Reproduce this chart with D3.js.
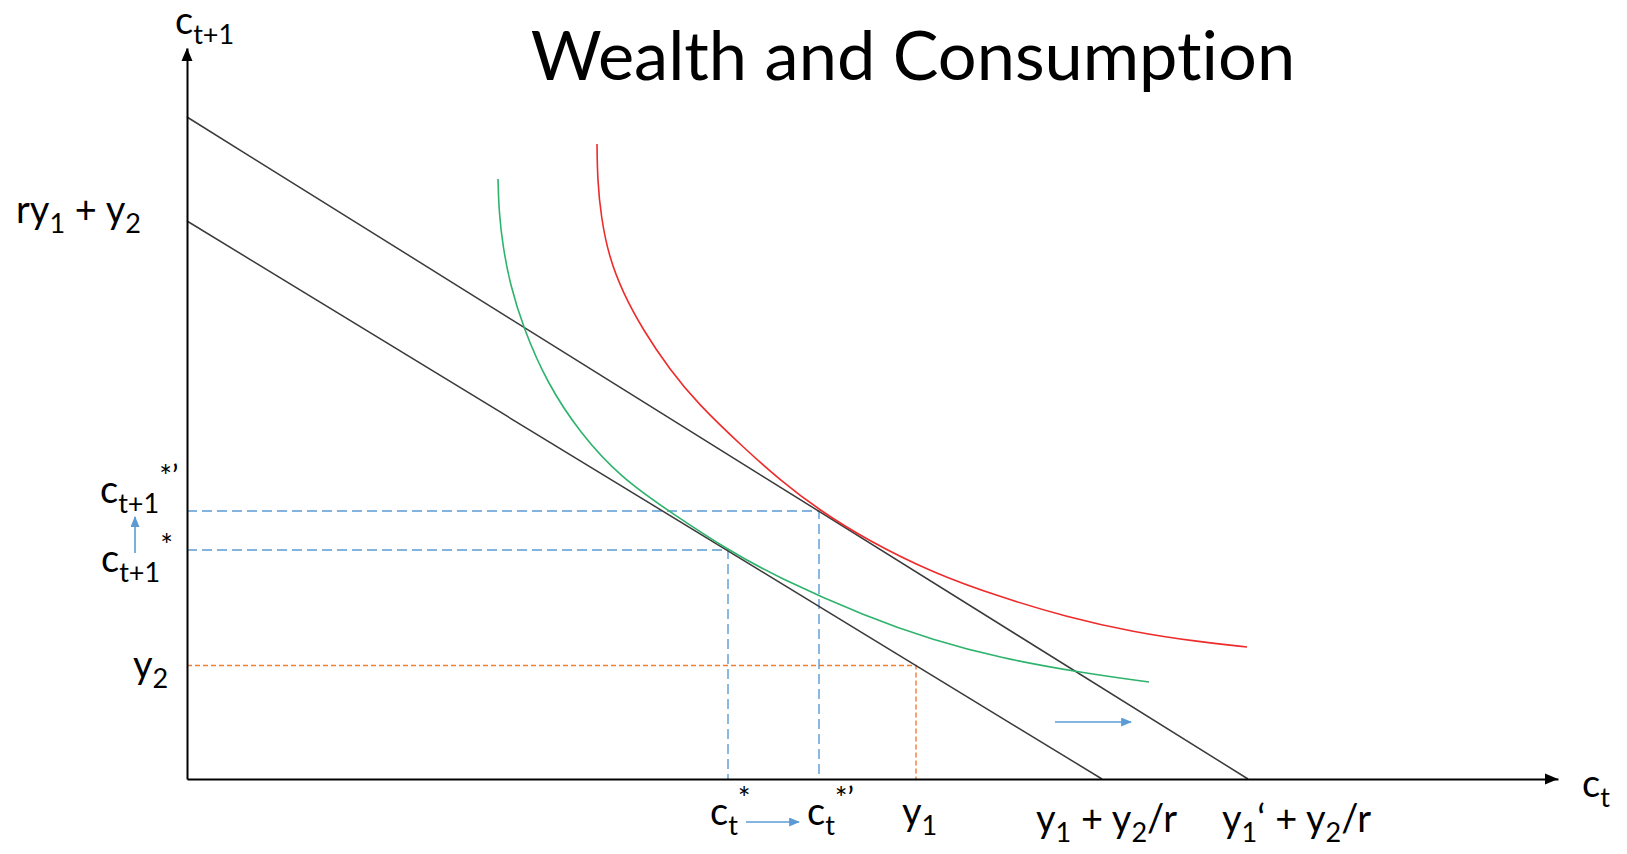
<!DOCTYPE html>
<html>
<head>
<meta charset="utf-8">
<script src="https://cdn.jsdelivr.net/npm/d3@7"></script>
<style>
  body { margin: 0; background: #fff; }
  text { font-family: Lato, "Open Sans", sans-serif; fill: #000; font-variant-ligatures: none; }
</style>
</head>
<body>
<div id="chart"></div>
<script>
// axis extents (units of c_t and c_t+1)
const xMax = 137.1;
const yMax = 73.1;

// budget lines: [c_t, c_t+1] end points
const budgetOld = [[0, 55.8], [91.5, 0]];
const budgetNew = [[0, 66.2], [106.1, 0]];

// indifference curves
const curveOld = [
  [31.1, 60.0], [31.2, 56.6], [31.6, 53.2], [32.3, 49.5], [33.6, 45.2],
  [36.0, 39.6], [39.3, 34.6], [43.3, 30.2], [48.6, 26.5], [54.1, 22.9],
  [59.0, 20.2], [68.0, 16.2], [74.6, 13.9], [81.3, 12.1], [89.6, 10.6],
  [96.2, 9.7]
];
const curveNew = [
  [41.0, 63.5], [41.05, 59.9], [41.4, 56.2], [42.2, 52.2], [43.6, 48.6],
  [45.6, 44.9], [48.3, 40.9], [51.0, 37.6], [55.8, 33.0], [59.3, 29.9],
  [63.2, 26.9], [68.0, 23.9], [74.6, 20.6], [81.3, 18.2], [88.0, 16.2],
  [94.6, 14.7], [101.3, 13.7], [106.0, 13.2]
];

// optimum points and endowment
const optOld = [54.1, 22.9];
const optNew = [63.2, 26.8];
const endowment = [72.9, 11.35];

// little blue arrows: [from, to]
const shiftArrows = [
  [[-5.2, 22.6], [-5.2, 26.2]],
  [[55.9, -4.3], [61.2, -4.3]],
  [[86.8, 5.7], [94.4, 5.7]]
];

const width = 1627, height = 854;

const svg = d3.select("#chart")
  .append("svg")
  .attr("width", width)
  .attr("height", height);

const x = d3.scaleLinear().domain([0, xMax]).range([187, 1558]);
const y = d3.scaleLinear().domain([0, yMax]).range([779, 48]);

const defs = svg.append("defs");
defs.append("marker")
  .attr("id", "blueHead")
  .attr("viewBox", "0 0 12 10")
  .attr("refX", 11)
  .attr("refY", 5)
  .attr("markerUnits", "userSpaceOnUse")
  .attr("markerWidth", 12)
  .attr("markerHeight", 9)
  .attr("orient", "auto")
  .append("path")
  .attr("d", "M0,0L12,5L0,10Z")
  .attr("fill", "#5b9bd5");

// =====================
// TITLE
// =====================
svg.append("text")
  .attr("x", 913)
  .attr("y", 80)
  .attr("text-anchor", "middle")
  .style("font-size", "68.5px")
  .text("Wealth and Consumption");

// =====================
// DASHED GUIDES
// =====================
const guide = d3.line().x(d => x(d[0])).y(d => y(d[1]));

[[optOld, "#5b9bd5", "10,5"], [optNew, "#5b9bd5", "10,5"], [endowment, "#ed7d31", "5,3"]]
  .forEach(([p, col, dash]) => {
    svg.append("path")
      .attr("d", guide([[0, p[1]], [p[0], p[1]], [p[0], 0]]))
      .attr("fill", "none")
      .attr("stroke", col)
      .attr("stroke-width", 1.4)
      .attr("stroke-dasharray", dash);
  });

// =====================
// BUDGET LINES
// =====================
svg.selectAll(".budget")
  .data([budgetOld, budgetNew])
  .enter()
  .append("path")
  .attr("class", "budget")
  .attr("d", guide)
  .attr("fill", "none")
  .attr("stroke", "#3a3a3a")
  .attr("stroke-width", 1.5);

// =====================
// INDIFFERENCE CURVES
// =====================
const smooth = d3.line()
  .x(d => x(d[0]))
  .y(d => y(d[1]))
  .curve(d3.curveBasis);

svg.append("path")
  .attr("d", smooth(curveOld))
  .attr("fill", "none")
  .attr("stroke", "#2eb36c")
  .attr("stroke-width", 1.6);

svg.append("path")
  .attr("d", smooth(curveNew))
  .attr("fill", "none")
  .attr("stroke", "#ee2b2b")
  .attr("stroke-width", 1.6);

// =====================
// AXES
// =====================
svg.append("g")
  .attr("transform", `translate(0,${y(0)})`)
  .call(d3.axisBottom(x).tickValues([]).tickSizeOuter(0));
svg.append("g")
  .attr("transform", `translate(${x(0)},0)`)
  .call(d3.axisLeft(y).tickValues([]).tickSizeOuter(0));
svg.selectAll(".domain").attr("stroke", "#000").attr("stroke-width", 2);

svg.append("path")
  .attr("d", `M${x(xMax)},${y(0)}l-13,-5.5v11z`)
  .attr("fill", "#000");
svg.append("path")
  .attr("d", `M${x(0)},${y(yMax)}l-5.5,13h11z`)
  .attr("fill", "#000");

// =====================
// SHIFT ARROWS
// =====================
svg.selectAll(".shift")
  .data(shiftArrows)
  .enter()
  .append("line")
  .attr("x1", d => x(d[0][0]))
  .attr("y1", d => y(d[0][1]))
  .attr("x2", d => x(d[1][0]))
  .attr("y2", d => y(d[1][1]))
  .attr("stroke", "#5b9bd5")
  .attr("stroke-width", 1.6)
  .attr("marker-end", "url(#blueHead)");

// =====================
// LABELS
// =====================
// parts: [text, "sub" | "sup" | null]
function label(px, py, parts) {
  const t = svg.append("text")
    .attr("x", px)
    .attr("y", py)
    .style("font-size", "38px");
  let cur = 0;
  parts.forEach(([s, kind]) => {
    const target = kind === "sub" ? 10 : kind === "sup" ? -16 : 0;
    t.append("tspan")
      .attr("dy", target - cur)
      .style("font-size", kind === "sub" ? "27px" : kind === "sup" ? "30px" : "38px")
      .text(s);
    cur = target;
  });
}

label(x(0) - 12, y(yMax) - 14, [["c"], ["t+1", "sub"]]);
label(x(xMax) + 24, y(0) + 18, [["c"], ["t", "sub"]]);

label(16, y(budgetOld[0][1]) + 2, [["ry"], ["1", "sub"], [" + y"], ["2", "sub"]]);
label(100, y(optNew[1]) - 8, [["c"], ["t+1", "sub"], ["*’", "sup"]]);
label(101, y(optOld[1]) + 22, [["c"], ["t+1", "sub"], ["*", "sup"]]);
label(133, y(endowment[1]) + 12, [["y"], ["2", "sub"]]);

label(x(optOld[0]) - 18, y(0) + 46, [["c"], ["t", "sub"], ["*", "sup"]]);
label(x(optNew[0]) - 12, y(0) + 46, [["c"], ["t", "sub"], ["*’", "sup"]]);
label(x(endowment[0]) - 14, y(0) + 46, [["y"], ["1", "sub"]]);
label(x(budgetOld[1][0]) - 66, y(0) + 53, [["y"], ["1", "sub"], [" + y"], ["2", "sub"], ["/r"]]);
label(x(budgetNew[1][0]) - 26, y(0) + 53, [["y"], ["1", "sub"], ["‘ + y"], ["2", "sub"], ["/r"]]);
</script>
</body>
</html>
